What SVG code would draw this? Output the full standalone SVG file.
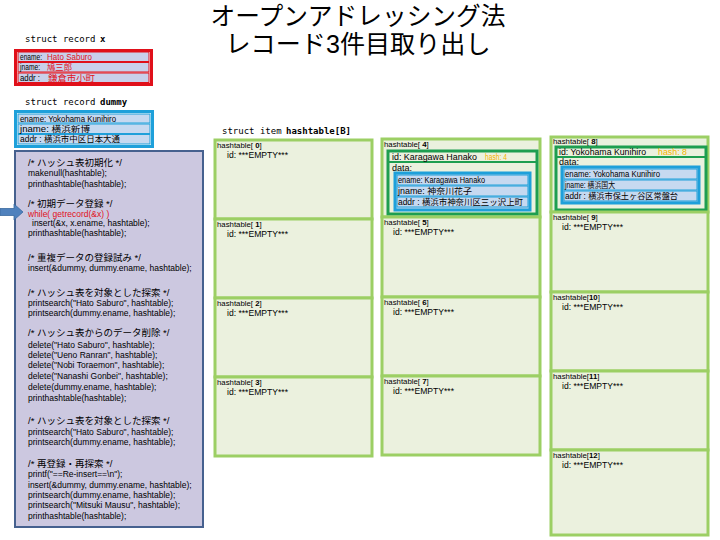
<svg xmlns="http://www.w3.org/2000/svg" width="720" height="540" viewBox="0 0 720 540">
<style>
.t{font-family:"Liberation Sans","Noto Sans CJK JP",sans-serif;font-size:8.5px;fill:#000}
.h{font-family:"Liberation Sans","Noto Sans CJK JP",sans-serif;font-size:7.8px;fill:#000}
.c{font-family:"Liberation Sans","Noto Sans CJK JP",sans-serif;font-size:8.5px;fill:#000}
.cj{font-family:"Liberation Sans","Noto Sans CJK JP",sans-serif;font-size:9.5px;fill:#000}
.m{font-family:"DejaVu Sans Mono","Noto Sans CJK JP",monospace;font-size:9px;fill:#000}
.ttl{font-family:"Liberation Sans","Noto Sans CJK JP",sans-serif;font-size:25px;fill:#000}
.red{fill:#e0101a}
.hash{fill:#f5b400}
.cell{fill:#ebf1de;stroke:#9ccf64;stroke-width:3}
.dg{fill:#ebf1de;stroke:#1e9e50;stroke-width:3}
.bl{fill:#c6d9f0;stroke:#1ea0da;stroke-width:3}
.row{fill:#c6d9f0;stroke:#1ea0da;stroke-width:1}
.rxo{fill:#fff;stroke:#e0101a;stroke-width:3}
.rxr{fill:#c9d0ea;stroke:#e0101a;stroke-width:1}
.b{font-weight:bold}
</style>

<g id="title">
<text class="ttl" x="358" y="25" text-anchor="middle" textLength="295" lengthAdjust="spacingAndGlyphs">オープンアドレッシング法</text>
<text class="ttl" x="358" y="53" text-anchor="middle" textLength="265" lengthAdjust="spacingAndGlyphs">レコード3件目取り出し</text>
</g>

<g id="record-x">
<text class="m" x="25" y="42">struct record</text>
<text class="m b" x="100" y="42">x</text>
<rect class="rxo" x="15.5" y="50.5" width="136" height="34"/>
<rect class="rxr" x="18" y="52" width="131" height="9.5"/>
<rect class="rxr" x="18" y="62.5" width="131" height="9.5"/>
<rect class="rxr" x="18" y="73" width="131" height="9.5"/>
<text class="t" x="20" y="59.8" textLength="22" lengthAdjust="spacingAndGlyphs">ename:</text>
<text class="t red" x="47" y="59.8" textLength="45" lengthAdjust="spacingAndGlyphs">Hato Saburo</text>
<text class="t" x="20" y="70.3" textLength="20" lengthAdjust="spacingAndGlyphs">jname:</text>
<text class="t red" x="47" y="70.3" textLength="25" lengthAdjust="spacingAndGlyphs">鳩三郎</text>
<text class="t" x="20" y="80.8" textLength="20" lengthAdjust="spacingAndGlyphs">addr :</text>
<text class="t red" x="48" y="80.8" textLength="47" lengthAdjust="spacingAndGlyphs">鎌倉市小町</text>
</g>

<g id="record-dummy">
<text class="m" x="25" y="105">struct record</text>
<text class="m b" x="100" y="105">dummy</text>
<rect x="15.5" y="111.5" width="137" height="35" fill="#fff" stroke="#1ea0da" stroke-width="3"/>
<rect class="row" x="18" y="114" width="132" height="9"/>
<rect class="row" x="18" y="124" width="132" height="9.5"/>
<rect class="row" x="18" y="134.5" width="132" height="9.5"/>
<text class="t" x="20" y="121.5" textLength="96" lengthAdjust="spacingAndGlyphs">ename: Yokohama Kunihiro</text>
<text class="t" x="20" y="131.8" textLength="70" lengthAdjust="spacingAndGlyphs">jname: 横浜新博</text>
<text class="t" x="20" y="142.3" textLength="100" lengthAdjust="spacingAndGlyphs">addr : 横浜市中区日本大通</text>
</g>

<g id="code">
<rect x="15" y="151" width="188" height="376" fill="#ccc8e0" stroke="#46618f" stroke-width="2"/>
<text class="cj" x="28" y="166">/* ハッシュ表初期化 */</text>
<text class="c" x="28" y="176">makenull(hashtable);</text>
<text class="c" x="28" y="186.5">printhashtable(hashtable);</text>
<text class="cj" x="28" y="206.5">/* 初期データ登録 */</text>
<text class="c red" x="28" y="216.5">while( getrecord(&amp;x) )</text>
<text class="c" x="32" y="226">insert(&amp;x, x.ename, hashtable);</text>
<text class="c" x="28" y="235.5">printhashtable(hashtable);</text>
<text class="cj" x="28" y="261">/* 重複データの登録試み */</text>
<text class="c" x="28" y="271">insert(&amp;dummy, dummy.ename, hashtable);</text>
<text class="cj" x="28" y="296">/* ハッシュ表を対象とした探索 */</text>
<text class="c" x="28" y="306">printsearch("Hato Saburo", hashtable);</text>
<text class="c" x="28" y="316">printsearch(dummy.ename, hashtable);</text>
<text class="cj" x="28" y="336">/* ハッシュ表からのデータ削除 */</text>
<text class="c" x="28" y="347.5">delete("Hato Saburo", hashtable);</text>
<text class="c" x="28" y="357.5">delete("Ueno Ranran", hashtable);</text>
<text class="c" x="28" y="367.5">delete("Nobi Toraemon", hashtable);</text>
<text class="c" x="28" y="379">delete("Nanashi Gonbei", hashtable);</text>
<text class="c" x="28" y="390">delete(dummy.ename, hashtable);</text>
<text class="c" x="28" y="401">printhashtable(hashtable);</text>
<text class="cj" x="28" y="424">/* ハッシュ表を対象とした探索 */</text>
<text class="c" x="28" y="435">printsearch("Hato Saburo", hashtable);</text>
<text class="c" x="28" y="445">printsearch(dummy.ename, hashtable);</text>
<text class="cj" x="28" y="467">/* 再登録・再探索 */</text>
<text class="c" x="28" y="476.5">printf("==Re-insert==\n");</text>
<text class="c" x="28" y="487.5">insert(&amp;dummy, dummy.ename, hashtable);</text>
<text class="c" x="28" y="497.5">printsearch(dummy.ename, hashtable);</text>
<text class="c" x="28" y="507.5">printsearch("Mitsuki Mausu", hashtable);</text>
<text class="c" x="28" y="518.5">printhashtable(hashtable);</text>
</g>

<g id="hashtable-label">
<text class="m" x="222" y="134">struct item</text>
<text class="m b" x="286" y="134">hashtable[B]</text>
</g>

<g id="ht0"><rect class="cell" x="215" y="140" width="157" height="79"/>
<text class="h" x="217" y="148">hashtable[<tspan class="b"> 0</tspan>]</text><text class="t" x="227" y="158" textLength="61" lengthAdjust="spacingAndGlyphs">id: ***EMPTY***</text></g>
<g id="ht1"><rect class="cell" x="215" y="219" width="157" height="79"/>
<text class="h" x="217" y="227">hashtable[<tspan class="b"> 1</tspan>]</text><text class="t" x="227" y="237" textLength="61" lengthAdjust="spacingAndGlyphs">id: ***EMPTY***</text></g>
<g id="ht2"><rect class="cell" x="215" y="298" width="157" height="79"/>
<text class="h" x="217" y="306">hashtable[<tspan class="b"> 2</tspan>]</text><text class="t" x="227" y="316" textLength="61" lengthAdjust="spacingAndGlyphs">id: ***EMPTY***</text></g>
<g id="ht3"><rect class="cell" x="215" y="377" width="157" height="79"/>
<text class="h" x="217" y="385">hashtable[<tspan class="b"> 3</tspan>]</text><text class="t" x="227" y="395" textLength="61" lengthAdjust="spacingAndGlyphs">id: ***EMPTY***</text></g>

<g id="ht4"><rect class="cell" x="382" y="139" width="158" height="78"/>
<text class="h" x="384" y="147">hashtable[<tspan class="b"> 4</tspan>]</text>
<rect class="dg" x="388" y="151" width="149" height="63"/>
<line x1="388" y1="162" x2="537" y2="162" stroke="#1e9e50" stroke-width="2"/>
<text class="t" x="392" y="159.5" textLength="85" lengthAdjust="spacingAndGlyphs">id: Karagawa Hanako</text>
<text class="t hash" x="485" y="159.5" textLength="22" lengthAdjust="spacingAndGlyphs">hash: 4</text>
<text class="t" x="392" y="171" textLength="20" lengthAdjust="spacingAndGlyphs">data:</text>
<rect class="bl" x="395" y="173" width="135" height="37"/>
<rect class="row" x="397" y="175" width="131" height="10"/>
<rect class="row" x="397" y="186" width="131" height="10"/>
<rect class="row" x="397" y="197" width="131" height="10"/>
<text class="t" x="398" y="183" textLength="87" lengthAdjust="spacingAndGlyphs">ename: Karagawa Hanako</text>
<text class="t" x="398" y="194" textLength="74" lengthAdjust="spacingAndGlyphs">jname: 神奈川花子</text>
<text class="t" x="398" y="205" textLength="125" lengthAdjust="spacingAndGlyphs">addr : 横浜市神奈川区三ッ沢上町</text>
</g>
<g id="ht5"><rect class="cell" x="382" y="217" width="158" height="80"/>
<text class="h" x="384" y="225">hashtable[<tspan class="b"> 5</tspan>]</text><text class="t" x="393" y="235" textLength="61" lengthAdjust="spacingAndGlyphs">id: ***EMPTY***</text></g>
<g id="ht6"><rect class="cell" x="382" y="297" width="158" height="79"/>
<text class="h" x="384" y="305">hashtable[<tspan class="b"> 6</tspan>]</text><text class="t" x="393" y="315" textLength="61" lengthAdjust="spacingAndGlyphs">id: ***EMPTY***</text></g>
<g id="ht7"><rect class="cell" x="382" y="376" width="158" height="79"/>
<text class="h" x="384" y="384">hashtable[<tspan class="b"> 7</tspan>]</text><text class="t" x="393" y="394" textLength="61" lengthAdjust="spacingAndGlyphs">id: ***EMPTY***</text></g>

<g id="ht8"><rect class="cell" x="551" y="137" width="157" height="75"/>
<text class="h" x="553" y="144">hashtable[<tspan class="b"> 8</tspan>]</text>
<rect class="dg" x="556" y="147" width="150" height="63"/>
<line x1="556" y1="157" x2="706" y2="157" stroke="#1e9e50" stroke-width="2"/>
<text class="t" x="559" y="155" textLength="87" lengthAdjust="spacingAndGlyphs">id: Yokohama Kunihiro</text>
<text class="t hash" x="658" y="155" textLength="29" lengthAdjust="spacingAndGlyphs">hash: 8</text>
<text class="t" x="559" y="165" textLength="20" lengthAdjust="spacingAndGlyphs">data:</text>
<rect class="bl" x="562" y="167" width="137" height="36"/>
<rect class="row" x="564" y="169" width="133" height="10"/>
<rect class="row" x="564" y="180" width="133" height="10"/>
<rect class="row" x="564" y="191" width="133" height="10"/>
<text class="t" x="565" y="177" textLength="95" lengthAdjust="spacingAndGlyphs">ename: Yokohama Kunihiro</text>
<text class="t" x="565" y="188" textLength="50" lengthAdjust="spacingAndGlyphs">jname: 横浜国大</text>
<text class="t" x="565" y="199" textLength="113" lengthAdjust="spacingAndGlyphs">addr : 横浜市保土ヶ谷区常盤台</text>
</g>
<g id="ht9"><rect class="cell" x="551" y="212" width="157" height="80"/>
<text class="h" x="553" y="220">hashtable[<tspan class="b"> 9</tspan>]</text><text class="t" x="562" y="230" textLength="61" lengthAdjust="spacingAndGlyphs">id: ***EMPTY***</text></g>
<g id="ht10"><rect class="cell" x="551" y="292" width="157" height="79"/>
<text class="h" x="553" y="300">hashtable[<tspan class="b">10</tspan>]</text><text class="t" x="562" y="310" textLength="61" lengthAdjust="spacingAndGlyphs">id: ***EMPTY***</text></g>
<g id="ht11"><rect class="cell" x="551" y="371" width="157" height="79"/>
<text class="h" x="553" y="379">hashtable[<tspan class="b">11</tspan>]</text><text class="t" x="562" y="389" textLength="61" lengthAdjust="spacingAndGlyphs">id: ***EMPTY***</text></g>
<g id="ht12"><rect class="cell" x="551" y="450" width="157" height="85"/>
<text class="h" x="553" y="458">hashtable[<tspan class="b">12</tspan>]</text><text class="t" x="562" y="468" textLength="61" lengthAdjust="spacingAndGlyphs">id: ***EMPTY***</text></g>

<g id="connectors">
<path d="M0,208.5 H14 V204 L23,212 L14,220 V215.5 H0 Z" fill="#4f81bd" stroke="#3a6aa0" stroke-width="0.8"/>
</g>
</svg>
